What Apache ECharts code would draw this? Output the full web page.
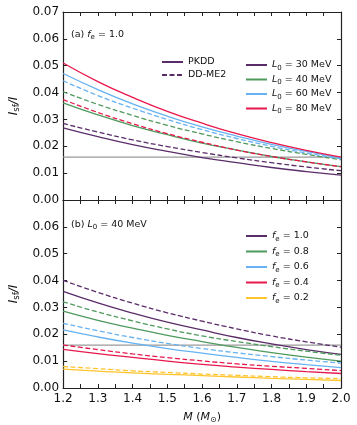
<!DOCTYPE html>
<html>
<head>
<meta charset="utf-8">
<script src="https://cdn.jsdelivr.net/npm/echarts@6/dist/echarts.min.js"></script>
<style>
  html, body { margin: 0; padding: 0; background: #fff; }
  #chart { width: 357px; height: 425px; }
</style>
</head>
<body>
<div id="chart"></div>
<script>
// M (M_sun) 取样点
const mass = [1.2, 1.3, 1.4, 1.5, 1.6, 1.7, 1.8, 1.9, 2.0];

// (a) f_e = 1.0, 不同 L0
const pkddL30 = [0.0269, 0.0236, 0.0206, 0.0181, 0.0158, 0.0139, 0.0121, 0.0106, 0.0093];
const ddme2L30 = [0.0285, 0.0253, 0.0224, 0.0199, 0.0177, 0.0157, 0.0139, 0.0123, 0.0109];
const pkddL40 = [0.0362, 0.0317, 0.0277, 0.0243, 0.0212, 0.0186, 0.0162, 0.0142, 0.0124];
const ddme2L40 = [0.0403, 0.0356, 0.0315, 0.0278, 0.0246, 0.0217, 0.0192, 0.0170, 0.0150];
const pkddL60 = [0.0471, 0.0411, 0.0358, 0.0312, 0.0272, 0.0238, 0.0207, 0.0181, 0.0157];
const ddme2L60 = [0.0444, 0.0389, 0.0342, 0.0300, 0.0262, 0.0229, 0.0200, 0.0175, 0.0153];
const pkddL80 = [0.0510, 0.0441, 0.0382, 0.0330, 0.0286, 0.0247, 0.0214, 0.0185, 0.0160];
const ddme2L80 = [0.0374, 0.0326, 0.0284, 0.0247, 0.0215, 0.0186, 0.0162, 0.0142, 0.0124];

// (b) L0 = 40 MeV, 不同 f_e
const pkddF10 = [0.0360, 0.0317, 0.0279, 0.0245, 0.0216, 0.0188, 0.0164, 0.0143, 0.0125];
const ddme2F10 = [0.0401, 0.0356, 0.0316, 0.0280, 0.0249, 0.0220, 0.0194, 0.0172, 0.0152];
const pkddF08 = [0.0286, 0.0252, 0.0223, 0.0196, 0.0173, 0.0151, 0.0132, 0.0115, 0.0100];
const ddme2F08 = [0.0321, 0.0283, 0.0250, 0.0220, 0.0194, 0.0173, 0.0154, 0.0137, 0.0122];
const pkddF06 = [0.0216, 0.0190, 0.0167, 0.0147, 0.0130, 0.0114, 0.0099, 0.0087, 0.0076];
const ddme2F06 = [0.0241, 0.0213, 0.0188, 0.0166, 0.0147, 0.0131, 0.0117, 0.0104, 0.0093];
const pkddF04 = [0.0144, 0.0128, 0.0114, 0.0100, 0.0088, 0.0078, 0.0069, 0.0061, 0.0054];
const ddme2F04 = [0.0160, 0.0143, 0.0127, 0.0113, 0.0101, 0.0090, 0.0081, 0.0073, 0.0065];
const pkddF02 = [0.0070, 0.0063, 0.0056, 0.0051, 0.0046, 0.0041, 0.0036, 0.0032, 0.0028];
const ddme2F02 = [0.0080, 0.0072, 0.0064, 0.0058, 0.0052, 0.0047, 0.0042, 0.0038, 0.0035];

// 灰色水平参考线
const refLevel = 0.016;

const L0Labels = ['30', '40', '60', '80'];
const feLabels = ['1.0', '0.8', '0.6', '0.4', '0.2'];

const colors = ['#5b2c6a', '#4e9a5c', '#66b2f2', '#e8174c', '#ffc52e'];
const FONT = 'DejaVu Sans';
const axisColor = '#222';
const DASH = [5, 2.5];

const panelA = [[pkddL30, ddme2L30], [pkddL40, ddme2L40], [pkddL60, ddme2L60], [pkddL80, ddme2L80]];
const panelB = [[pkddF10, ddme2F10], [pkddF08, ddme2F08], [pkddF06, ddme2F06], [pkddF04, ddme2F04], [pkddF02, ddme2F02]];

const pairs = arr => arr.map((v, i) => [mass[i], v]);

const rich = {
  i: { fontFamily: FONT, fontStyle: 'italic', fontWeight: 'normal', fontSize: 9.5, color: '#111' },
  s: { fontFamily: FONT, fontWeight: 'normal', fontSize: 7, color: '#111', padding: [6, 0, 0, 0] },
  n: { fontFamily: FONT, fontWeight: 'normal', fontSize: 9.5, color: '#111' }
};

let series = [];
function addPanel(panel, gi, prefix) {
  panel.forEach((pair, k) => {
    [0, 1].forEach(j => {
      series.push({
        name: prefix + k + '_' + j,
        type: 'line',
        xAxisIndex: gi * 2,
        yAxisIndex: gi * 2,
        data: pairs(pair[j]),
        smooth: true,
        symbol: 'none',
        silent: true,
        lineStyle: { color: colors[k], width: 1.3, type: j === 0 ? 'solid' : DASH },
        z: 3
      });
    });
  });
  series.push({
    name: 'ref' + gi,
    type: 'line',
    xAxisIndex: gi * 2,
    yAxisIndex: gi * 2,
    data: [[mass[0], refLevel], [mass[mass.length - 1], refLevel]],
    symbol: 'none',
    silent: true,
    lineStyle: { color: '#999', width: 1.2 },
    z: 2
  });
}
addPanel(panelA, 0, 'a');
addPanel(panelB, 1, 'b');

// 图例用的空系列
function legendSeries(name, color, type, gi) {
  series.push({
    name: name, type: 'line', data: [], symbol: 'none',
    xAxisIndex: gi * 2, yAxisIndex: gi * 2,
    lineStyle: { color: color, width: 1.3, type: type },
    itemStyle: { color: color }
  });
}
legendSeries('PKDD', colors[0], 'solid', 0);
legendSeries('DD-ME2', colors[0], DASH, 0);
L0Labels.forEach((l, k) => legendSeries('L' + l, colors[k], 'solid', 0));
feLabels.forEach((f, k) => legendSeries('F' + f, colors[k], 'solid', 1));

const grids = [
  { left: 51, top: 12, width: 290, height: 188 },
  { left: 51, top: 200, width: 290, height: 190 }
];

function xAxes(gi) {
  const base = {
    type: 'value', gridIndex: gi, min: 1.2, max: 2.0, interval: 0.05,
    axisLine: { show: true, onZero: false, lineStyle: { color: axisColor, width: 1.2 } },
    axisTick: { show: true, inside: true, length: 4, lineStyle: { color: axisColor } },
    splitLine: { show: false }
  };
  return [
    Object.assign({}, base, {
      position: 'bottom',
      axisLabel: {
        show: gi === 1, color: '#111', fontFamily: FONT, fontSize: 12, margin: 5,
        formatter: v => (Math.round(v * 100) % 10 === 0 ? v.toFixed(1) : '')
      },
      name: gi === 1 ? '{i|M} ({i|M}{s|⊙})' : '',
      nameLocation: 'middle', nameGap: 22,
      nameTextStyle: {
        rich: {
          i: { fontFamily: FONT, fontStyle: 'italic', fontSize: 11, color: '#111' },
          s: { fontFamily: FONT, fontSize: 8, color: '#111', padding: [6, 0, 0, 0] }
        },
        fontFamily: FONT, fontSize: 11, color: '#111'
      }
    }),
    Object.assign({}, base, { position: 'top', axisLabel: { show: false } })
  ];
}

function yAxes(gi) {
  const base = {
    type: 'value', gridIndex: gi, min: 0, max: 0.07, interval: 0.01,
    axisLine: { show: true, onZero: false, lineStyle: { color: axisColor, width: 1.2 } },
    axisTick: { show: true, inside: true, length: 4, lineStyle: { color: axisColor } },
    splitLine: { show: false }
  };
  return [
    Object.assign({}, base, {
      position: 'left',
      axisLabel: {
        color: '#111', fontFamily: FONT, fontSize: 12, margin: 4,
        showMaxLabel: gi === 0,
        formatter: v => v.toFixed(2)
      },
      name: '{i|I}{s|sf}{i|/I}',
      nameLocation: 'middle', nameGap: 41, nameRotate: 90,
      nameTextStyle: {
        rich: {
          i: { fontFamily: FONT, fontStyle: 'italic', fontSize: 12, color: '#111' },
          s: { fontFamily: FONT, fontSize: 8.5, color: '#111', padding: [6, 0, 0, 0] }
        }
      }
    }),
    Object.assign({}, base, { position: 'right', axisLabel: { show: false } })
  ];
}

function makeLegend(extra) {
  return Object.assign({
    orient: 'vertical', itemWidth: 21, itemHeight: 10, itemGap: 3,
    itemStyle: { opacity: 0 },
    textStyle: { fontFamily: FONT, fontSize: 9.5, color: '#111', rich: rich },
    selectedMode: false
  }, extra);
}

const chart = echarts.init(document.getElementById('chart'), null, { renderer: 'canvas' });
chart.setOption({
  animation: false,
  backgroundColor: '#fff',
  grid: grids,
  xAxis: xAxes(0).concat(xAxes(1)),
  yAxis: yAxes(0).concat(yAxes(1)),
  title: [
    { text: '{n|(a) }{i|f}{s|e}{n| = 1.0}', left: 66, top: 23, textStyle: { fontWeight: 'normal', rich: rich } },
    { text: '{n|(b) }{i|L}{s|0}{n| = 40 MeV}', left: 66, top: 213, textStyle: { fontWeight: 'normal', rich: rich } }
  ],
  legend: [
    makeLegend({ data: ['PKDD', 'DD-ME2'], left: 156, top: 52, itemGap: 3 }),
    makeLegend({
      data: L0Labels.map(l => 'L' + l), left: 240, top: 55, itemGap: 3,
      formatter: n => '{i|L}{s|0}{n| = ' + n.slice(1) + ' MeV}'
    }),
    makeLegend({
      data: feLabels.map(f => 'F' + f), left: 240, top: 226, itemGap: 4,
      formatter: n => '{i|f}{s|e}{n| = ' + n.slice(1) + '}'
    })
  ],
  series: series
});
</script>
</body>
</html>
